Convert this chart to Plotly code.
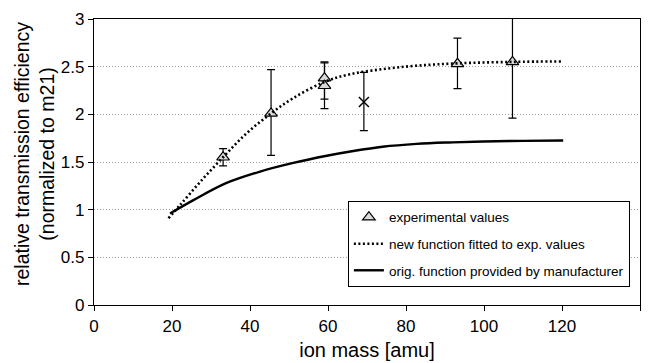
import plotly.graph_objects as go

# experimental values (triangles)
exp_mass = [33.1, 45.4, 59.1, 59.1, 93.2, 107.3]
exp_eff = [1.55, 2.01, 2.38, 2.30, 2.53, 2.55]
exp_err_plus = [0.09, 0.46, 0.17, 0.24, 0.27, 0.51]
exp_err_minus = [0.09, 0.44, 0.22, 0.24, 0.26, 0.59]

# separate point (x marker)
x_mass = [69.2]
x_eff = [2.13]
x_err_plus = [0.31]
x_err_minus = [0.30]

# new function fitted to exp. values
fit_mass = [19.1, 22.1, 27.2, 33.1, 39.1, 45.4, 51.1, 59.1, 65.6, 74.2, 82.7, 93.2, 107.3, 120.3]
fit_eff = [0.91, 1.05, 1.29, 1.55, 1.80, 2.01, 2.17, 2.34, 2.42, 2.475, 2.51, 2.535, 2.55, 2.555]

# orig. function provided by manufacturer
orig_mass = [19.5, 25.5, 34.0, 42.6, 51.1, 59.7, 66.5, 74.0, 82.7, 91.0, 99.8, 110.0, 120.3]
orig_eff = [0.96, 1.10, 1.28, 1.40, 1.49, 1.565, 1.615, 1.66, 1.69, 1.705, 1.715, 1.722, 1.725]

FONT = "Liberation Sans, Arial, sans-serif"

fig = go.Figure()
fig.add_trace(go.Scatter(
    x=exp_mass, y=exp_eff, mode="markers", name="experimental values",
    marker=dict(symbol="triangle-up", size=11, color="#d9d9d9",
                line=dict(color="black", width=1.2)),
    error_y=dict(type="data", array=exp_err_plus, arrayminus=exp_err_minus,
                 color="black", thickness=1.2, width=4),
    cliponaxis=False, legendgroup="a"))
fig.add_trace(go.Scatter(
    x=fit_mass, y=fit_eff, mode="lines", name="new function fitted to exp. values",
    line=dict(color="black", width=2.6, dash="2px,2.5px", shape="spline"),
    legendgroup="b"))
fig.add_trace(go.Scatter(
    x=orig_mass, y=orig_eff, mode="lines", name="orig. function provided by manufacturer",
    line=dict(color="black", width=2.4, shape="spline"), legendgroup="c"))
fig.add_trace(go.Scatter(
    x=x_mass, y=x_eff, mode="markers", showlegend=False,
    marker=dict(symbol="x-thin", size=10, line=dict(color="black", width=1.5)),
    error_y=dict(type="data", array=x_err_plus, arrayminus=x_err_minus,
                 color="black", thickness=1.2, width=4),
    cliponaxis=False))

fig.update_layout(
    width=653, height=363,
    margin=dict(l=94, r=13, t=19, b=58),
    paper_bgcolor="white", plot_bgcolor="white",
    font=dict(family=FONT, color="black"),
    showlegend=True,
    legend=dict(x=0.465, y=0.364, xanchor="left", yanchor="top",
                bgcolor="white", bordercolor="black", borderwidth=1,
                font=dict(size=13.5, family=FONT), itemwidth=30,
                tracegroupgap=6),
    annotations=[dict(
        text="relative transmission efficiency<br>(normalized to m21)",
        xref="paper", yref="paper", x=-0.108, y=0.528,
        xanchor="center", yanchor="middle", textangle=-90,
        showarrow=False, font=dict(size=19.5, family=FONT))],
)
fig.update_xaxes(
    range=[0, 140], tickvals=[0, 20, 40, 60, 80, 100, 120, 140],
    showline=True, linecolor="black", linewidth=1.2, mirror=True,
    ticks="outside", ticklen=5, tickcolor="black",
    showgrid=False, zeroline=False, automargin=False,
    tickfont=dict(size=17),
    title=dict(text="ion mass [amu]", font=dict(size=20), standoff=8),
)
fig.update_yaxes(
    range=[0, 3], tickvals=[0, 0.5, 1, 1.5, 2, 2.5, 3],
    ticktext=["0", "0.5", "1", "1.5", "2", "2.5", "3"],
    showline=True, linecolor="black", linewidth=1.2, mirror=True,
    ticks="outside", ticklen=5, tickcolor="black",
    showgrid=True, gridcolor="#a0a0a0", gridwidth=1, griddash="1px,2px",
    zeroline=False, automargin=False,
    tickfont=dict(size=17),
)
fig.write_html("out.html", config={"displayModeBar": False},
               post_script="document.body.style.margin='0';document.body.style.overflow='hidden';")
